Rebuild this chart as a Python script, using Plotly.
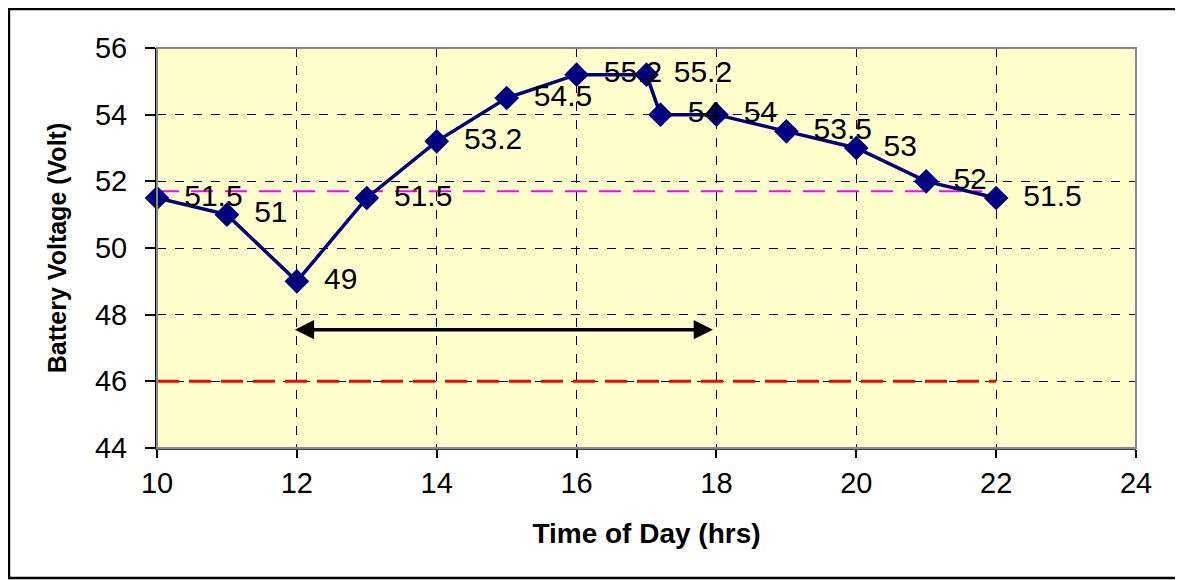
import plotly.graph_objects as go

# Data
hours = [10, 11, 12, 13, 14, 15, 16, 17, 17.2, 18, 19, 20, 21, 22]
voltage = [51.5, 51, 49, 51.5, 53.2, 54.5, 55.2, 55.2, 54, 54, 53.5, 53, 52, 51.5]
labels = ["51.5", "51", "49", "51.5", "53.2", "54.5", "55.2", "55.2", "54", "54", "53.5", "53", "52", "51.5"]

magenta_x = [10, 21.8]
magenta_y = [51.7, 51.7]
red_x = [10, 22]
red_y = [46, 46]
arrow_x = [11.95, 17.95]
arrow_y = [47.55, 47.55]

x_ticks = [10, 12, 14, 16, 18, 20, 22, 24]
y_ticks = [44, 46, 48, 50, 52, 54, 56]

FONT = "Liberation Sans, Arial, sans-serif"

fig = go.Figure()

fig.add_trace(go.Scatter(x=magenta_x, y=magenta_y, mode="lines",
                         line=dict(color="#FF00FF", width=2, dash="22px,12px"),
                         hoverinfo="skip", showlegend=False))
fig.add_trace(go.Scatter(x=red_x, y=red_y, mode="lines",
                         line=dict(color="#FF0000", width=3, dash="22px,10px"),
                         hoverinfo="skip", showlegend=False))

fig.add_trace(go.Scatter(
    x=hours, y=voltage, mode="lines+markers+text",
    text=[" \u2009" + t for t in labels], textposition="middle right",
    textfont=dict(family=FONT, size=30, color="black"),
    line=dict(color="#000080", width=3.5),
    marker=dict(symbol="diamond", size=19, color="#000080"),
    showlegend=False, cliponaxis=False))

fig.add_annotation(x=arrow_x[1], y=arrow_y[1], ax=arrow_x[0], ay=arrow_y[0],
                   xref="x", yref="y", axref="x", ayref="y", text="",
                   showarrow=True, arrowhead=2, startarrowhead=2, arrowside="end+start",
                   arrowwidth=3.5, arrowsize=1.1, startarrowsize=1.1, arrowcolor="black",
                   standoff=0, startstandoff=0)

# plot-area border (gray) and outer frame (black)
fig.add_shape(type="rect", xref="paper", yref="paper", x0=0, y0=0, x1=1, y1=1,
              line=dict(color="#888888", width=2), layer="above")
fig.add_shape(type="rect", xref="paper", yref="paper",
              x0=-0.1512, y0=-0.325, x1=1.046, y1=1.0975,
              line=dict(color="black", width=2.5))

# page body has an 8px margin; figure placed at (8,8) in the window
fig.update_layout(
    width=1175, height=572,
    margin=dict(l=149, r=47, t=40, b=132),
    paper_bgcolor="white", plot_bgcolor="#FFFFCC",
    font=dict(family=FONT, color="black"),
    showlegend=False,
)

fig.update_xaxes(range=[10, 24], tickvals=x_ticks, ticktext=[str(v) for v in x_ticks],
                 tickfont=dict(size=29, family=FONT),
                 ticks="outside", ticklen=8, tickcolor="black", tickwidth=1.5,
                 showgrid=True, gridcolor="black", griddash="dash", gridwidth=1,
                 showline=True, linecolor="#444444", linewidth=2,
                 zeroline=False,
                 title=dict(text="<b>Time of Day (hrs)</b>", font=dict(size=28, family=FONT),
                            standoff=26))
fig.update_yaxes(range=[44, 56], tickvals=y_ticks, ticktext=[str(v) for v in y_ticks],
                 tickfont=dict(size=29, family=FONT),
                 ticks="outside", ticklen=10, tickcolor="black", tickwidth=1.5,
                 ticklabelstandoff=12,
                 showgrid=True, gridcolor="black", griddash="dash", gridwidth=1,
                 showline=True, linecolor="black", linewidth=2,
                 zeroline=False,
                 title=dict(text="<b>Battery Voltage (Volt)</b>", font=dict(size=25, family=FONT),
                            standoff=21))

fig.write_html("out.html")
